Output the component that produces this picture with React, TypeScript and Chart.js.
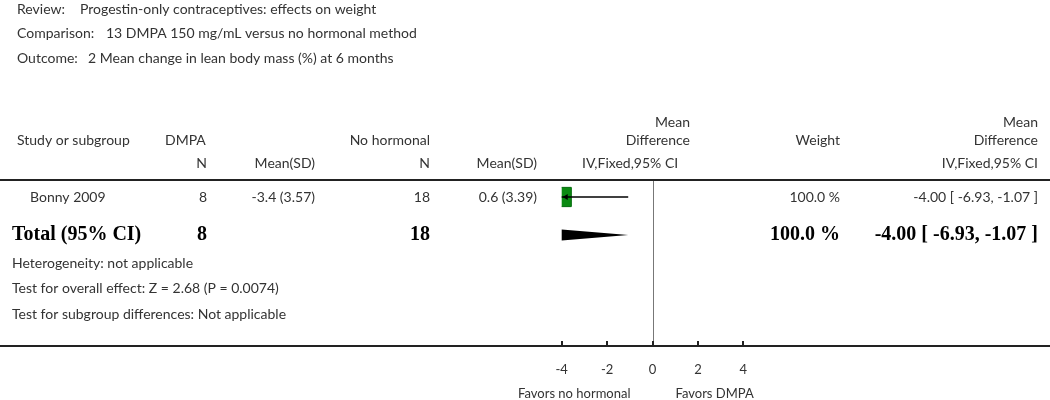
import React, { useEffect, useRef } from "react";
import { Chart, registerables } from "chart.js";

Chart.register(...registerables);

// ---- data ----
const reviewTitle = "Progestin-only contraceptives: effects on weight";
const comparisonTitle = "13 DMPA 150 mg/mL versus no hormonal method";
const outcomeTitle = "2 Mean change in lean body mass (%) at 6 months";

const studies = ["Bonny 2009"];
const dmpaN = ["8"];
const dmpaMeanSD = ["-3.4 (3.57)"];
const noHormN = ["18"];
const noHormMeanSD = ["0.6 (3.39)"];
const studyMD = [-4.0];
const studyLow = [-6.93];
const studyHigh = [-1.07];
const studyWeight = ["100.0 %"];
const studyText = ["-4.00 [ -6.93, -1.07 ]"];

const totalN1 = "8";
const totalN2 = "18";
const totalMD = [-4.0];
const totalLow = [-6.93];
const totalHigh = [-1.07];
const totalWeight = "100.0 %";
const totalText = "-4.00 [ -6.93, -1.07 ]";

const footerLines = [
  "Heterogeneity: not applicable",
  "Test for overall effect: Z = 2.68 (P = 0.0074)",
  "Test for subgroup differences: Not applicable",
];

const xTicks = [-4, -2, 0, 2, 4];
const xTickLabels = ["-4", "-2", "0", "2", "4"];
const leftFavor = "Favors no hormonal";
const rightFavor = "Favors DMPA";

const SANS = "Lato, 'Noto Sans', sans-serif";
const SERIF = "'Liberation Serif', 'DejaVu Serif', serif";
const TXT = "#333333";

const textPlugin = {
  id: "forestText",
  afterDatasetsDraw(chart: any) {
    const { ctx, chartArea, scales } = chart;
    const xs = scales.x;
    const ys = scales.y;
    const W = chart.width;
    ctx.save();

    const text = (s: string, x: number, y: number, align: CanvasTextAlign = "left", font = `14px ${SANS}`, color = TXT) => {
      ctx.font = font;
      ctx.fillStyle = color;
      ctx.textAlign = align;
      ctx.textBaseline = "middle";
      ctx.fillText(s, x, y);
    };

    // diamond (total), clipped to the plot area
    ctx.save();
    ctx.beginPath();
    ctx.rect(chartArea.left, chartArea.top, chartArea.right - chartArea.left, chartArea.bottom - chartArea.top);
    ctx.clip();
    const dy = ys.getPixelForValue(2);
    ctx.beginPath();
    ctx.moveTo(xs.getPixelForValue(totalLow[0]), dy);
    ctx.lineTo(xs.getPixelForValue(totalMD[0]), dy - 5.5);
    ctx.lineTo(xs.getPixelForValue(totalHigh[0]), dy);
    ctx.lineTo(xs.getPixelForValue(totalMD[0]), dy + 5.5);
    ctx.closePath();
    ctx.fillStyle = "#000";
    ctx.fill();
    ctx.restore();

    // arrow where CI leaves plot area
    studies.forEach((_, i) => {
      const py = ys.getPixelForValue(1 + i);
      if (xs.getPixelForValue(studyLow[i]) < chartArea.left) {
        const lx = chartArea.left;
        ctx.beginPath();
        ctx.moveTo(lx + 1, py);
        ctx.lineTo(lx + 6, py - 3);
        ctx.lineTo(lx + 6, py + 3);
        ctx.closePath();
        ctx.fillStyle = "#000";
        ctx.fill();
      }
    });

    // no-effect line
    const x0 = xs.getPixelForValue(0);
    ctx.beginPath();
    ctx.strokeStyle = "#777";
    ctx.lineWidth = 1;
    ctx.moveTo(Math.round(x0) + 0.5, chartArea.top);
    ctx.lineTo(Math.round(x0) + 0.5, chartArea.bottom);
    ctx.stroke();

    // header rule and axis rule
    ctx.strokeStyle = "#222";
    ctx.lineWidth = 2;
    ctx.beginPath();
    ctx.moveTo(0, chartArea.top);
    ctx.lineTo(W, chartArea.top);
    ctx.stroke();
    ctx.beginPath();
    ctx.moveTo(0, chartArea.bottom);
    ctx.lineTo(W, chartArea.bottom);
    ctx.stroke();
    xTicks.forEach((t) => {
      const px = Math.round(xs.getPixelForValue(t));
      ctx.beginPath();
      ctx.moveTo(px, chartArea.bottom - 5);
      ctx.lineTo(px, chartArea.bottom);
      ctx.stroke();
    });

    // titles
    text("Review:", 17, 9);
    text(reviewTitle, 80, 9);
    text("Comparison:", 17, 33);
    text(comparisonTitle, 106, 33);
    text("Outcome:", 17, 58);
    text(outcomeTitle, 88, 58);

    // headers
    text("Study or subgroup", 17, 140);
    text("DMPA", 165, 140);
    text("No hormonal", 430, 140, "right");
    text("Mean", 690, 122, "right");
    text("Difference", 690, 140, "right");
    text("Weight", 840, 140, "right");
    text("Mean", 1038, 122, "right");
    text("Difference", 1038, 140, "right");
    text("N", 207, 163, "right");
    text("Mean(SD)", 315, 163, "right");
    text("N", 430, 163, "right");
    text("Mean(SD)", 537, 163, "right");
    text("IV,Fixed,95% CI", 582, 163, "left");
    text("IV,Fixed,95% CI", 1038, 163, "right");

    // study rows
    studies.forEach((s, i) => {
      const py = ys.getPixelForValue(1 + i);
      text(s, 30, py);
      text(dmpaN[i], 207, py, "right");
      text(dmpaMeanSD[i], 315, py, "right");
      text(noHormN[i], 430, py, "right");
      text(noHormMeanSD[i], 537, py, "right");
      text(studyWeight[i], 840, py, "right");
      text(studyText[i], 1038, py, "right");
    });

    // total row
    const bold = `bold 20px ${SERIF}`;
    text("Total (95% CI)", 12, dy, "left", bold, "#000");
    text(totalN1, 207, dy, "right", bold, "#000");
    text(totalN2, 430, dy, "right", bold, "#000");
    text(totalWeight, 840, dy, "right", bold, "#000");
    text(totalText, 1038, dy, "right", bold, "#000");

    // footer
    footerLines.forEach((l, i) => text(l, 12, 263 + i * 25.5));

    // favors
    text(leftFavor, x0 - 22, 394, "right", `13px ${SANS}`);
    text(rightFavor, x0 + 23, 394, "left", `13px ${SANS}`);

    ctx.restore();
  },
};

export default function App() {
  const ref = useRef<HTMLCanvasElement | null>(null);
  useEffect(() => {
    if (!ref.current) return;
    const chart = new Chart(ref.current, {
      type: "scatter",
      data: {
        datasets: [
          {
            label: "CI",
            data: studies.map((_, i) => [
              { x: studyLow[i], y: 1 + i },
              { x: studyHigh[i], y: 1 + i },
            ]).flat(),
            showLine: true,
            borderColor: "#000",
            borderWidth: 1.5,
            pointRadius: 0,
            clip: 0,
          } as any,
          {
            label: "MD",
            data: studies.map((_, i) => ({ x: studyMD[i], y: 1 + i })),
            pointStyle: "rect",
            pointRadius: 13.6,
            backgroundColor: "#0b8a12",
            borderColor: "#006a0a",
            borderWidth: 1,
            clip: 0,
          } as any,
        ],
      },
      options: {
        animation: false,
        responsive: false,
        devicePixelRatio: 1,
        events: [],
        layout: { padding: { left: 561.7, right: 306.7, top: 180, bottom: 0 } },
        plugins: { legend: { display: false }, tooltip: { enabled: false } },
        scales: {
          x: {
            type: "linear",
            min: -4,
            max: 4,
            afterBuildTicks: (axis: any) => {
              axis.ticks = xTicks.map((v) => ({ value: v }));
            },
            afterFit: (axis: any) => {
              axis.height = 54;
            },
            grid: { display: false, drawTicks: false },
            border: { display: false },
            ticks: {
              padding: 16,
              color: TXT,
              font: { family: SANS, size: 13 },
              callback: (v: any) => {
                const idx = xTicks.indexOf(Number(v));
                return idx >= 0 ? xTickLabels[idx] : "";
              },
            },
          },
          y: {
            type: "linear",
            display: false,
            min: 0.5526,
            max: 4.921,
            reverse: true,
          },
        },
      },
      plugins: [textPlugin],
    });
    return () => chart.destroy();
  }, []);
  return (
    <div style={{ position: "absolute", left: 0, top: 0, width: 1050, height: 400, background: "#fff" }}>
      <canvas ref={ref} width={1050} height={400} style={{ width: 1050, height: 400, display: "block" }} />
    </div>
  );
}
